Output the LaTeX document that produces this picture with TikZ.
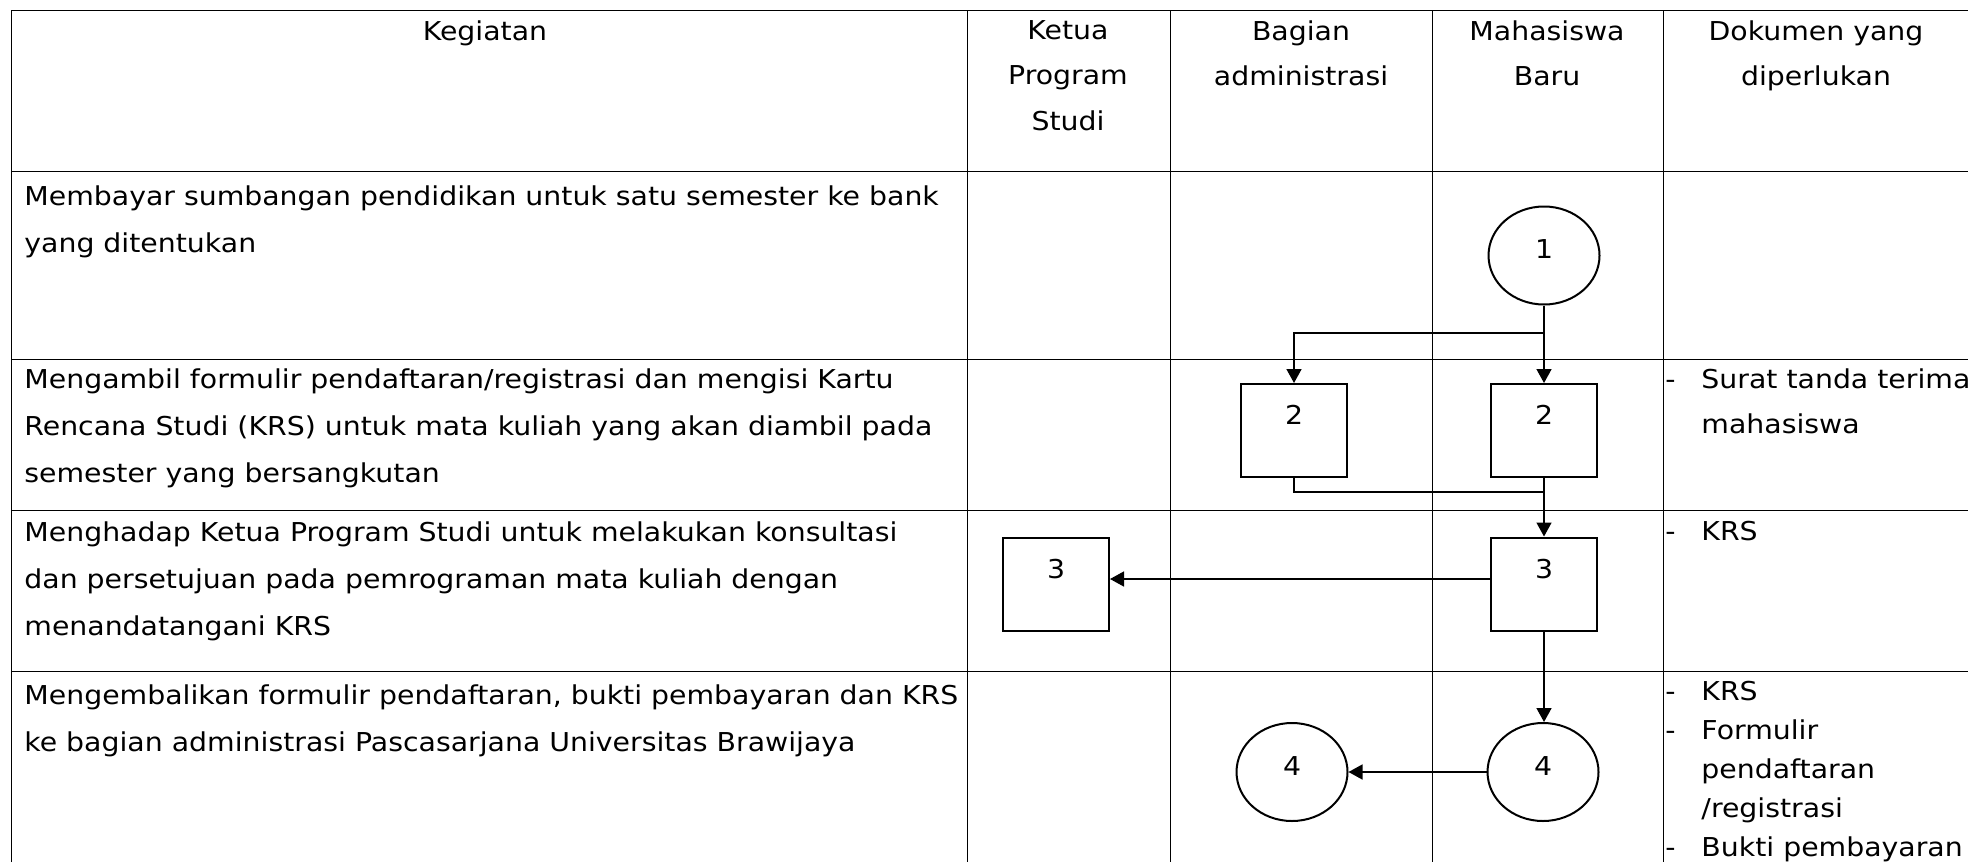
\documentclass[tikz,border=0pt]{standalone}
\usepackage{fontspec}
\setmainfont{DejaVu Sans}[FakeStretch=1.09]
\usetikzlibrary{arrows.meta,shapes.geometric}

\tikzset{
  tabline/.style={line width=0.5pt},
  proc/.style={draw, line width=1pt, minimum width=53pt, minimum height=46.5pt,
    inner sep=0pt, text height=9pt, text depth=15pt, font=\fontsize{13}{15}\selectfont},
  term/.style={draw, ellipse, line width=1pt, minimum width=55.5pt, minimum height=49pt,
    inner sep=0pt, text height=9pt, text depth=6pt, font=\fontsize{13}{15}\selectfont},
  arr/.style={-{Triangle[length=7pt,width=7.5pt]}, line width=0.8pt},
  link/.style={line width=0.8pt},
  head/.style={anchor=north, inner sep=0pt, align=center, font=\fontsize{13}{22.75}\selectfont},
  keg/.style={anchor=north west, inner sep=0pt, align=left, font=\fontsize{13}{23.5}\selectfont},
  dok/.style={anchor=base west, inner sep=0pt},
}

\begin{document}
\begin{tikzpicture}[x=0.5pt, y=-0.5pt]
    \useasboundingbox (0,0) rectangle (1968,862);
    % table
    \draw[tabline] (11,862) -- (11,10) -- (1968,10);
    \draw[tabline] (11,171) -- (1968,171);
    \draw[tabline] (11,359) -- (1968,359);
    \draw[tabline] (11,510) -- (1968,510);
    \draw[tabline] (11,671) -- (1968,671);
    \draw[tabline] (967,10) -- (967,862);
    \draw[tabline] (1170,10) -- (1170,862);
    \draw[tabline] (1432,10) -- (1432,862);
    \draw[tabline] (1663,10) -- (1663,862);

    \node[head] (hkeg) at (485,20) {Kegiatan};
    \node[head] (hket) at (1068,20) {Ketua\\Program\\Studi};
    \node[head] (hadm) at (1301,20) {Bagian\\administrasi};
    \node[head] (hmhs) at (1547,20) {Mahasiswa\\Baru};
    \node[head] (hdok) at (1816,20) {Dokumen yang\\diperlukan};

    \node[keg] (k1) at (24,185) {Membayar sumbangan pendidikan untuk satu semester ke bank\\yang ditentukan};
    \node[keg] (k2) at (24,368) {Mengambil formulir pendaftaran/registrasi dan mengisi Kartu\\Rencana Studi (KRS) untuk mata kuliah yang akan diambil pada\\semester yang bersangkutan};
    \node[keg] (k3) at (24,521) {Menghadap Ketua Program Studi untuk melakukan konsultasi\\dan persetujuan pada pemrograman mata kuliah dengan\\menandatangani KRS};
    \node[keg] (k4) at (24,684) {Mengembalikan formulir pendaftaran, bukti pembayaran dan KRS\\ke bagian administrasi Pascasarjana Universitas Brawijaya};

    % dokumen
    \node[dok] (d2) at (1665,388) {\fontsize{13}{22.5}\selectfont
      \begin{tabular}[t]{@{}l@{\hspace{12.9pt}}l@{}}-&Surat tanda terima\\&mahasiswa\end{tabular}};
    \node[dok] (d3) at (1665,540) {\fontsize{13}{22.5}\selectfont
      \begin{tabular}[t]{@{}l@{\hspace{12.9pt}}l@{}}-&KRS\end{tabular}};
    \node[dok] (d4) at (1665,700) {\fontsize{13}{19.5}\selectfont
      \begin{tabular}[t]{@{}l@{\hspace{12.9pt}}l@{}}-&KRS\\-&Formulir\\&pendaftaran\\&/registrasi\\-&Bukti pembayaran\end{tabular}};

    % alur
    \node[term] (t1) at (1544,255.5) {1};
    \node[proc] (p2a) at (1294,430.5) {2};
    \node[proc] (p2m) at (1544,430.5) {2};
    \node[proc] (p3k) at (1056,584) {3};
    \node[proc] (p3m) at (1544,584) {3};
    \node[term] (t4m) at (1543,772) {4};
    \node[term] (t4a) at (1292,772) {4};
    \coordinate (fork) at (1544,333);
    \coordinate (join) at (1544,492);

    \draw[arr] (t1) -- (p2m);
    \draw[arr] (fork) -| (p2a.north);
    \draw[arr] (p2m) -- (p3m);
    \draw[link] (p2a.south) |- (join);
    \draw[arr] ([yshift=2.5pt]p3m.west) -- ([yshift=2.5pt]p3k.east);
    \draw[arr] (p3m.south) -- (p3m.south |- t4m.north);
    \draw[arr] (t4m) -- (t4a);
\end{tikzpicture}
\end{document}
